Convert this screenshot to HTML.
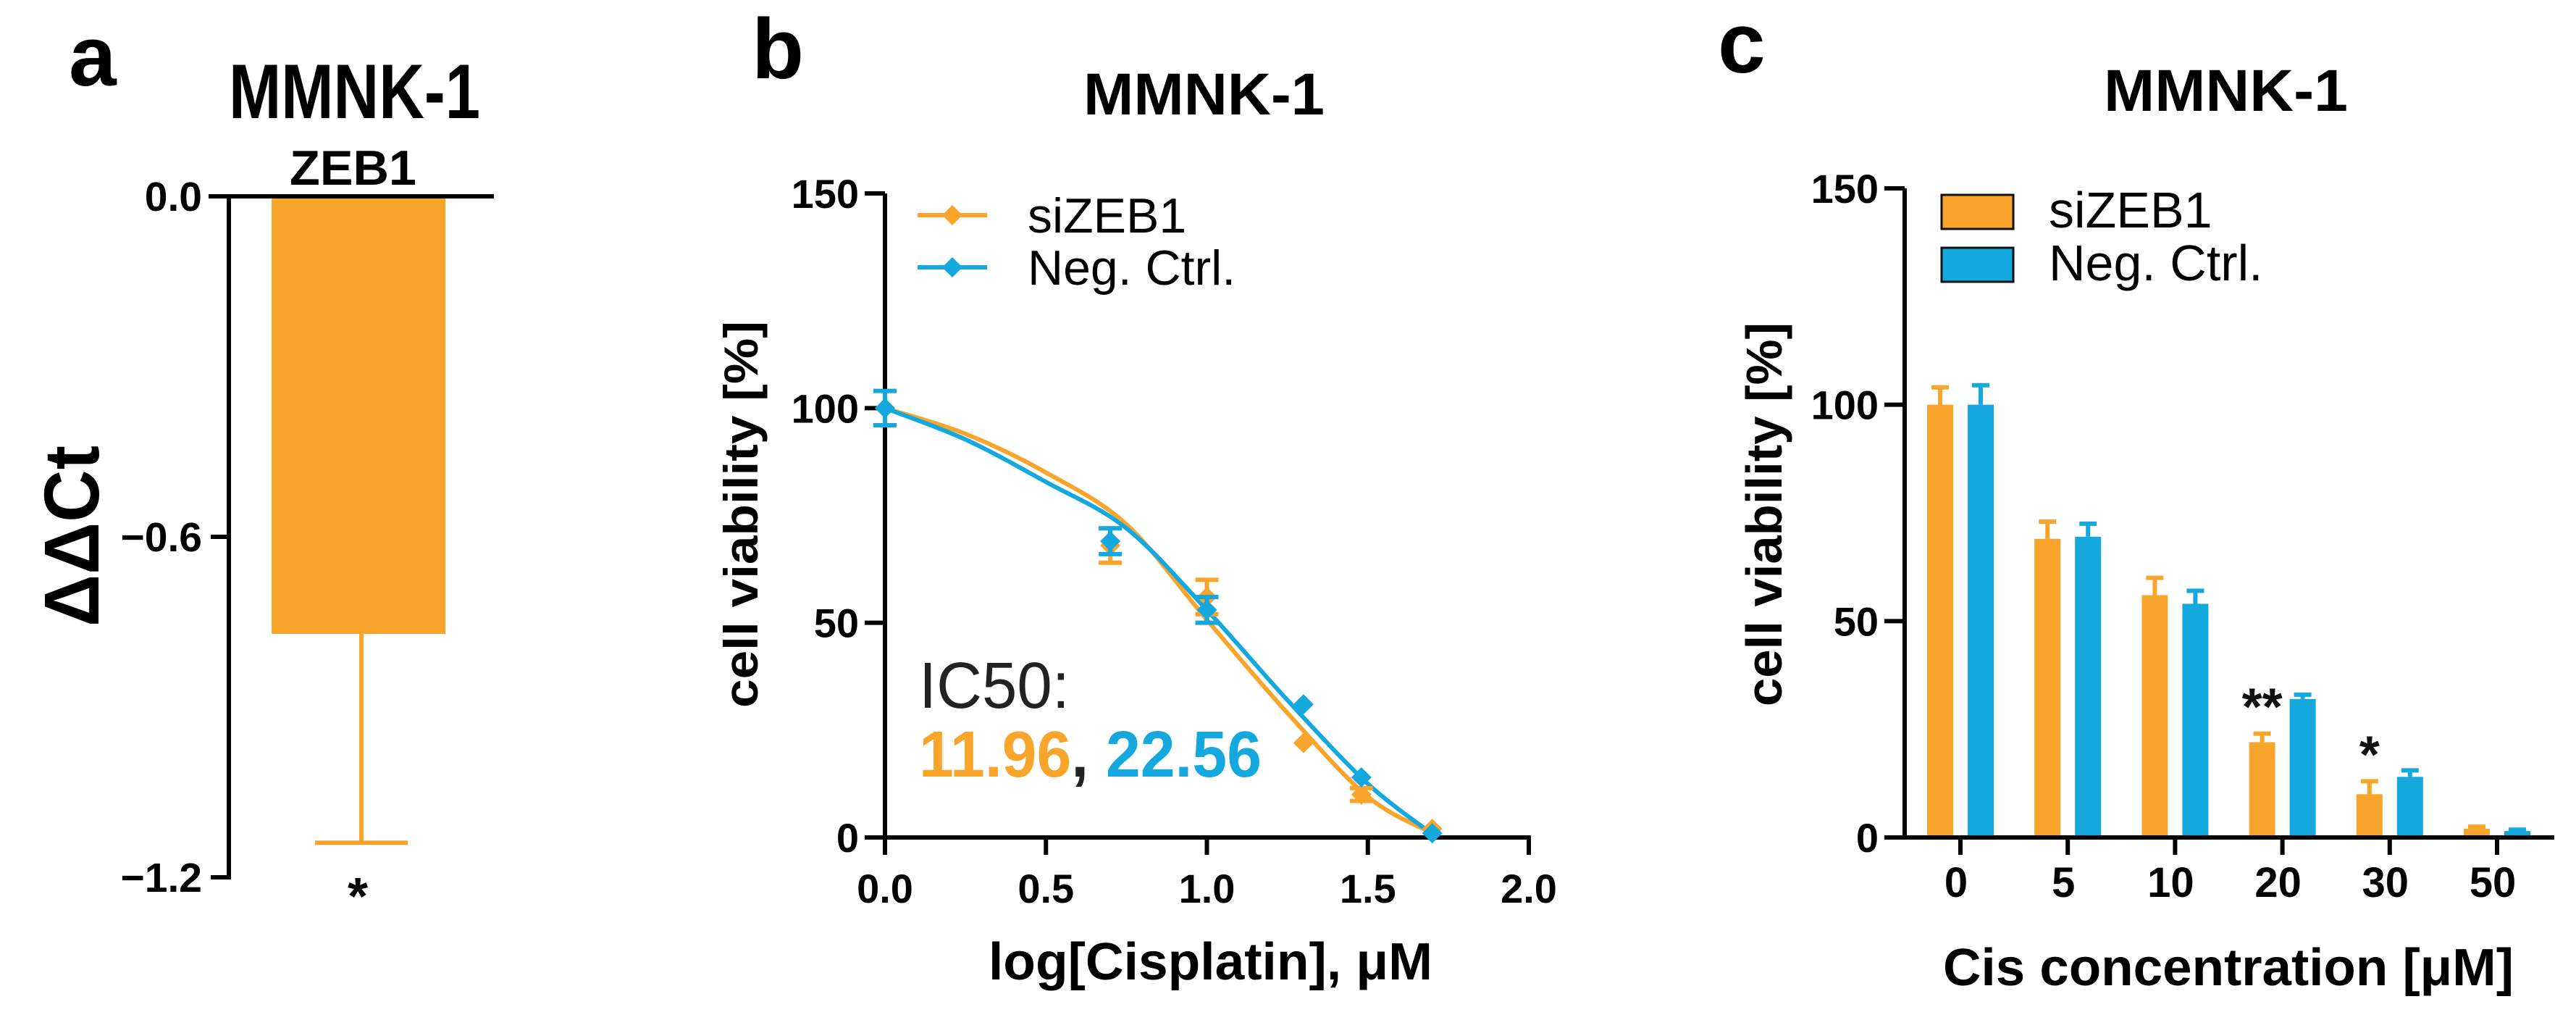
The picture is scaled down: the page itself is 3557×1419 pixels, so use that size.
<!DOCTYPE html>
<html><head><meta charset="utf-8"><style>
html,body{margin:0;padding:0;background:#fff;}
svg{display:block;font-family:"Liberation Sans",Arial,sans-serif;}
</style></head><body>
<svg id="fig" width="3557" height="1419" viewBox="0 0 3557 1419" xmlns="http://www.w3.org/2000/svg">
<g id="pa"></g>
<g id="pb"></g>
<g id="pc"></g>
</svg>
<script>
// ---------- data ----------
// panel a
const aCategories = ["ZEB1"];
const aValues = [-0.771];
const aErrors = [0.368];
const aTicks = [0.0, -0.6, -1.2];
const aTickLabels = ["0.0", "\u22120.6", "\u22121.2"];
// panel b
const bX = [0, 0.7, 1.0, 1.3, 1.48, 1.7];
const bSiZEB1 = [100, 68, 56, 22, 10, 2];
const bSiZEB1Err = [0, 4, 4, 1, 1.5, 0.5];
const bNegCtrl = [100, 69, 53, 31, 14, 1];
const bNegCtrlErr = [4, 3, 3, 1, 1, 0.5];
const bCurveX = [0, 0.25, 0.5, 0.75, 1.0, 1.25, 1.5, 1.7];
const bCurveSi = [100, 94, 85, 72.9, 50.7, 29, 9.5, 1];
const bCurveNeg = [100, 92.7, 82.8, 72, 53, 32, 12.5, 0.8];
const bXTicks = [0, 0.5, 1.0, 1.5, 2.0];
const bXTickLabels = ["0.0", "0.5", "1.0", "1.5", "2.0"];
const bYTicks = [0, 50, 100, 150];
// panel c
const cCategories = ["0", "5", "10", "20", "30", "50"];
const cSiZEB1 = [100, 69, 56, 22, 10, 2];
const cSiZEB1Err = [4, 4, 4, 2, 3, 0.5];
const cNegCtrl = [100, 69.5, 54, 32, 14, 1.5];
const cNegCtrlErr = [4.5, 3, 3, 1, 1.5, 0.3];
const cSig = ["", "", "", "**", "*", ""];
const cYTicks = [0, 50, 100, 150];

const ORANGE = "#F9A52C", BLUE = "#15A8DE";
const NS = "http://www.w3.org/2000/svg";
function mk(parent, tag, attrs, text){
  const e = document.createElementNS(NS, tag);
  for (const k in attrs) e.setAttribute(k, attrs[k]);
  if (text !== undefined) e.textContent = text;
  parent.appendChild(e);
  return e;
}
const pa = document.getElementById('pa'), pb = document.getElementById('pb'), pc = document.getElementById('pc');

// ---------- panel a ----------
(function(){
  const y = v => 271 + (-v) / 1.2 * 940;
  let t;
  t = mk(pa, 'text', {x:95, y:118, 'font-size':118, 'font-weight':'bold'}, 'a');
   
  t = mk(pa, 'text', {x:316, y:163, 'font-size':107, 'font-weight':'bold', textLength:347, lengthAdjust:'spacingAndGlyphs'}, 'MMNK-1');
   
  t = mk(pa, 'text', {x:400, y:255, 'font-size':68, 'font-weight':'bold', textLength:175, lengthAdjust:'spacingAndGlyphs'}, aCategories[0]);
   
  const r = mk(pa, 'rect', {x:375, y:y(0), width:240, height:y(aValues[0]) - y(0), fill:ORANGE});
   
  const eb = aValues[0] - aErrors[0];
  let l = mk(pa, 'line', {x1:499, x2:499, y1:y(aValues[0]), y2:y(eb), stroke:ORANGE, 'stroke-width':6});
   
  l = mk(pa, 'line', {x1:435, x2:563, y1:y(eb), y2:y(eb), stroke:ORANGE, 'stroke-width':6});
   
  t = mk(pa, 'text', {x:494, y:1262, 'font-size':72, 'font-weight':'bold', 'text-anchor':'middle'}, '*');
   
  l = mk(pa, 'line', {x1:288, x2:682, y1:271, y2:271, stroke:'#000', 'stroke-width':6});
   
  l = mk(pa, 'line', {x1:316, x2:316, y1:268, y2:1214, stroke:'#000', 'stroke-width':6});
   
  aTicks.forEach((v, i) => {
    const tk = mk(pa, 'line', {x1:291, x2:316, y1:y(v), y2:y(v), stroke:'#000', 'stroke-width':6});
     
    const tl = mk(pa, 'text', {x:279, y:y(v) + 20, 'font-size':57, 'font-weight':'bold', 'text-anchor':'end'}, aTickLabels[i]);
     
  });
  t = mk(pa, 'text', {x:0, y:0, 'font-size':108, 'font-weight':'bold', 'text-anchor':'middle', transform:'translate(136,740) rotate(-90)', textLength:250, lengthAdjust:'spacingAndGlyphs'}, '\u0394\u0394Ct');
   
})();

// ---------- panel b ----------
(function(){
  const X0 = 1222, X1 = 2111, Y0 = 1156, Y150 = 267;
  const x = v => X0 + v / 2 * (X1 - X0);
  const y = v => Y0 - v / 150 * (Y0 - Y150);
  let t, l;
  t = mk(pb, 'text', {x:1038, y:108, 'font-size':118, 'font-weight':'bold'}, 'b');
   
  t = mk(pb, 'text', {x:1496, y:158, 'font-size':82, 'font-weight':'bold', textLength:333, lengthAdjust:'spacingAndGlyphs'}, 'MMNK-1');
   
  l = mk(pb, 'line', {x1:X0, x2:X0, y1:Y150, y2:Y0 + 3, stroke:'#000', 'stroke-width':6});
   
  l = mk(pb, 'line', {x1:X0 - 3, x2:X1 + 3, y1:Y0, y2:Y0, stroke:'#000', 'stroke-width':6});
   
  bYTicks.forEach(v => {
    const tk = mk(pb, 'line', {x1:X0 - 28, x2:X0, y1:y(v), y2:y(v), stroke:'#000', 'stroke-width':6});
     
    const tl = mk(pb, 'text', {x:X0 - 36, y:y(v) + 20, 'font-size':56, 'font-weight':'bold', 'text-anchor':'end'}, String(v));
     
  });
  bXTicks.forEach((v, i) => {
    const tk = mk(pb, 'line', {x1:x(v), x2:x(v), y1:Y0, y2:Y0 + 24, stroke:'#000', 'stroke-width':6});
     
    const tl = mk(pb, 'text', {x:x(v), y:1246, 'font-size':56, 'font-weight':'bold', 'text-anchor':'middle'}, bXTickLabels[i]);
     
  });
  t = mk(pb, 'text', {x:1365, y:1352, 'font-size':72, 'font-weight':'bold', textLength:613, lengthAdjust:'spacingAndGlyphs'}, 'log[Cisplatin], \u03bcM');
   
  t = mk(pb, 'text', {x:0, y:0, 'font-size':66, 'font-weight':'bold', 'text-anchor':'middle', transform:'translate(1046,710) rotate(-90)', textLength:534, lengthAdjust:'spacingAndGlyphs'}, 'cell viability [%]');
   
  function smooth(xs, ys){
    const p = xs.map((v, i) => [x(v), y(ys[i])]);
    let d = 'M' + p[0][0] + ' ' + p[0][1];
    for (let i = 0; i < p.length - 1; i++){
      const p0 = p[Math.max(0, i - 1)], p1 = p[i], p2 = p[i + 1], p3 = p[Math.min(p.length - 1, i + 2)];
      const c1 = [p1[0] + (p2[0] - p0[0]) / 6, p1[1] + (p2[1] - p0[1]) / 6];
      const c2 = [p2[0] - (p3[0] - p1[0]) / 6, p2[1] - (p3[1] - p1[1]) / 6];
      d += ' C' + c1.join(' ') + ' ' + c2.join(' ') + ' ' + p2.join(' ');
    }
    return d;
  }
  l = mk(pb, 'path', {d:smooth(bCurveX, bCurveSi), fill:'none', stroke:ORANGE, 'stroke-width':6});
   
  l = mk(pb, 'path', {d:smooth(bCurveX, bCurveNeg), fill:'none', stroke:BLUE, 'stroke-width':6});
   
  function pts(vals, errs, col, name){
    vals.forEach((v, i) => {
      const cx = x(bX[i]), cy = y(v);
      if (errs[i] > 1) {
        const e = mk(pb, 'path', {d:`M${cx} ${y(v + errs[i])}V${y(v - errs[i])}M${cx - 16} ${y(v + errs[i])}H${cx + 16}M${cx - 16} ${y(v - errs[i])}H${cx + 16}`, stroke:col, 'stroke-width':6, fill:'none'});
         
      }
      const m = mk(pb, 'path', {d:`M${cx} ${cy - 14}L${cx + 14} ${cy}L${cx} ${cy + 14}L${cx - 14} ${cy}Z`, fill:col});
       
    });
  }
  pts(bSiZEB1, bSiZEB1Err, ORANGE, 'sizeb1');
  pts(bNegCtrl, bNegCtrlErr, BLUE, 'neg-ctrl');
  [[ORANGE, 'siZEB1', 297], [BLUE, 'Neg. Ctrl.', 369]].forEach(([c, s, ly]) => {
    const g = mk(pb, 'g', {});
     
    mk(g, 'line', {x1:1267, x2:1363, y1:ly, y2:ly, stroke:c, 'stroke-width':6});
    mk(g, 'path', {d:`M1315 ${ly - 14}L1329 ${ly}L1315 ${ly + 14}L1301 ${ly}Z`, fill:c});
    mk(g, 'text', {x:1419, y:ly + 24, 'font-size':68}, s);
  });
  t = mk(pb, 'text', {x:1269, y:977, 'font-size':90, textLength:208, lengthAdjust:'spacingAndGlyphs', fill:'#222'}, 'IC50:');
   
  t = mk(pb, 'text', {x:1269, y:1072, 'font-size':90, 'font-weight':'bold', textLength:473, lengthAdjust:'spacingAndGlyphs'});
   
  mk(t, 'tspan', {fill:ORANGE}, '11.96');
  mk(t, 'tspan', {fill:'#222'}, ', ');
  mk(t, 'tspan', {fill:BLUE}, '22.56');
})();

// ---------- panel c ----------
(function(){
  const X0 = 2630, X1 = 3527, Y0 = 1156, Y150 = 260;
  const gx = i => 2707 + i * 148.2;
  const y = v => Y0 - v / 150 * (Y0 - Y150);
  let t, l;
  t = mk(pc, 'text', {x:2372, y:100, 'font-size':118, 'font-weight':'bold'}, 'c');
   
  t = mk(pc, 'text', {x:2905, y:153, 'font-size':82, 'font-weight':'bold', textLength:337, lengthAdjust:'spacingAndGlyphs'}, 'MMNK-1');
   
  function bars(vals, errs, col, off, name){
    vals.forEach((v, i) => {
      const cx = gx(i) + off;
      const r = mk(pc, 'rect', {x:cx - 18, y:y(v), width:36, height:y(0) - y(v), fill:col});
       
      const e = mk(pc, 'path', {d:`M${cx} ${y(v)}V${y(v + errs[i])}M${cx - 12} ${y(v + errs[i])}H${cx + 12}`, stroke:col, 'stroke-width':6, fill:'none'});
       
    });
  }
  bars(cSiZEB1, cSiZEB1Err, ORANGE, -28, 'sizeb1');
  bars(cNegCtrl, cNegCtrlErr, BLUE, 28, 'neg-ctrl');
  cSig.forEach((s, i) => {
    if (!s) return;
    const top = cSiZEB1[i] + cSiZEB1Err[i];
    const st = mk(pc, 'text', {x:gx(i) - 28, y:y(top) - 12, 'font-size':72, 'font-weight':'bold', 'text-anchor':'middle', fill:'#111'}, s);
     
  });
  l = mk(pc, 'line', {x1:X0, x2:X0, y1:Y150, y2:Y0 + 3, stroke:'#000', 'stroke-width':6});
   
  l = mk(pc, 'line', {x1:X0 - 3, x2:X1, y1:Y0, y2:Y0, stroke:'#000', 'stroke-width':6});
   
  cYTicks.forEach(v => {
    const tk = mk(pc, 'line', {x1:X0 - 28, x2:X0, y1:y(v), y2:y(v), stroke:'#000', 'stroke-width':6});
     
    const tl = mk(pc, 'text', {x:X0 - 36, y:y(v) + 20, 'font-size':56, 'font-weight':'bold', 'text-anchor':'end'}, String(v));
     
  });
  cCategories.forEach((c, i) => {
    const tk = mk(pc, 'line', {x1:gx(i), x2:gx(i), y1:Y0, y2:Y0 + 24, stroke:'#000', 'stroke-width':6});
     
    const tl = mk(pc, 'text', {x:gx(i) - 6, y:1238, 'font-size':58, 'font-weight':'bold', 'text-anchor':'middle'}, c);
     
  });
  t = mk(pc, 'text', {x:2683, y:1360, 'font-size':72, 'font-weight':'bold', textLength:788, lengthAdjust:'spacingAndGlyphs'}, 'Cis concentration [\u03bcM]');
   
  t = mk(pc, 'text', {x:0, y:0, 'font-size':70, 'font-weight':'bold', 'text-anchor':'middle', transform:'translate(2460,710) rotate(-90)', textLength:530, lengthAdjust:'spacingAndGlyphs'}, 'cell viability [%]');
   
  [[ORANGE, 'siZEB1', 269], [BLUE, 'Neg. Ctrl.', 342]].forEach(([c, s, ly]) => {
    const g = mk(pc, 'g', {});
     
    mk(g, 'rect', {x:2681, y:ly, width:99, height:47, fill:c, stroke:'#111', 'stroke-width':3});
    mk(g, 'text', {x:2829, y:ly + 45, 'font-size':70}, s);
  });
})();
</script>
</body></html>
